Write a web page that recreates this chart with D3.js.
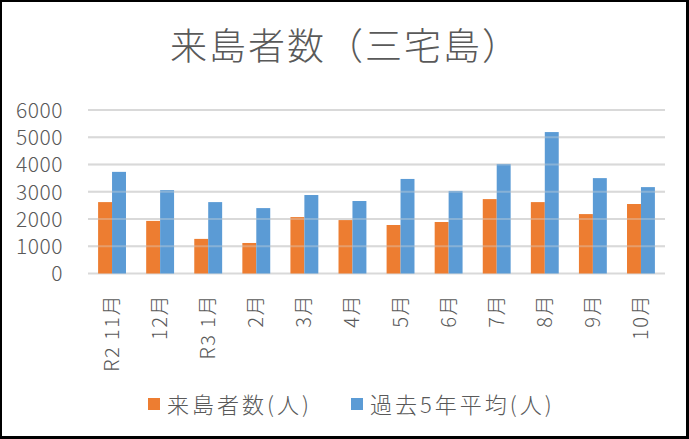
<!DOCTYPE html>
<html>
<head>
<meta charset="utf-8">
<script src="https://cdn.jsdelivr.net/npm/d3@7"></script>
<style>
  body { margin: 0; background: #fff; }
  text { font-family: "Noto Sans CJK JP", "Noto Sans", sans-serif; fill: #595959; font-weight: 300; }
</style>
</head>
<body>
<div id="chart"></div>
<script>
// 月ごとのカテゴリ
const categories = ["R2 11月", "12月", "R3 1月", "2月", "3月", "4月", "5月", "6月", "7月", "8月", "9月", "10月"]
// 来島者数（人）
const visitors = [2620, 1930, 1270, 1120, 2070, 1960, 1780, 1890, 2730, 2620, 2180, 2550]
// 過去5年平均（人）
const avg5 = [3730, 3060, 2620, 2400, 2880, 2660, 3470, 3030, 4020, 5190, 3500, 3170]
const seriesNames = ["来島者数(人)", "過去5年平均(人)"]
const yTicks = [0, 1000, 2000, 3000, 4000, 5000, 6000]
const colors = ["#ED7D31", "#5B9BD5"]

const W = 689, H = 439

let svg = d3.select('#chart')
  .append('svg')
  .attr('width', W)
  .attr('height', H)

// frame
svg.append('rect').attr('width', W).attr('height', H).attr('fill', '#000')
svg.append('rect').attr('x', 2).attr('y', 2).attr('width', W - 5).attr('height', H - 5).attr('fill', '#fff')

let x = d3.scaleBand()
  .domain(categories)
  .range([88, 665])
  .paddingInner(0.42)
  .paddingOuter(0.21)

let xs = d3.scaleBand()
  .domain([0, 1])
  .range([0, x.bandwidth()])

let y = d3.scaleLinear()
  .domain([0, 6000])
  .range([273.5, 110])

// gridlines under the bars
let grid = svg.append('g')
grid.selectAll('line')
  .data(yTicks)
  .enter()
  .append('line')
  .attr('x1', 88)
  .attr('x2', 665)
  .attr('y1', d => y(d))
  .attr('y2', d => y(d))
  .attr('stroke', '#d9d9d9')
  .attr('stroke-width', 2)

let rows = categories.map((c, i) => ({ cat: c, vals: [visitors[i], avg5[i]] }))

let groups = svg.selectAll('g.cat')
  .data(rows)
  .enter()
  .append('g')
  .attr('class', 'cat')
  .attr('transform', d => `translate(${x(d.cat)},0)`)

groups.selectAll('rect')
  .data(d => d.vals)
  .enter()
  .append('rect')
  .attr('x', (d, i) => xs(i))
  .attr('width', xs.bandwidth())
  .attr('y', d => y(d))
  .attr('height', d => y(0) - y(d))
  .attr('fill', (d, i) => colors[i])

// faint gridlines showing through the bars
svg.append('g').selectAll('line')
  .data(yTicks.slice(1))
  .enter()
  .append('line')
  .attr('x1', 88)
  .attr('x2', 665)
  .attr('y1', d => y(d))
  .attr('y2', d => y(d))
  .attr('stroke', '#d9d9d9')
  .attr('stroke-opacity', 0.35)
  .attr('stroke-width', 2)

// y axis labels
let yAxis = d3.axisLeft(y).tickValues(yTicks).tickFormat(d3.format('d')).tickSize(0).tickPadding(0)
svg.append('g')
  .attr('transform', 'translate(63,0)')
  .call(yAxis)
  .call(g => g.select('.domain').remove())
  .selectAll('text')
  .attr('font-size', 21)
  .attr('font-family', '"Noto Sans CJK JP", sans-serif')
  .attr('fill', '#595959')
  .attr('letter-spacing', 0.5)
  .attr('dy', '0.35em')

// x axis labels (rotated)
svg.append('g').selectAll('text')
  .data(categories)
  .enter()
  .append('text')
  .attr('transform', d => `translate(${x(d) + x.bandwidth() / 2},294) rotate(-90)`)
  .attr('text-anchor', 'end')
  .attr('dy', '0.35em')
  .attr('font-size', 20)
  .attr('letter-spacing', 1.5)
  .text(d => d)

// title
svg.append('text')
  .attr('x', 170)
  .attr('y', 60)
  .attr('font-size', 37)
  .attr('letter-spacing', 2)
  .text('来島者数（三宅島）')

// legend
let legendX = [148, 351]
let legend = svg.selectAll('g.legend')
  .data(seriesNames)
  .enter()
  .append('g')
  .attr('class', 'legend')
  .attr('transform', (d, i) => `translate(${legendX[i]},398)`)

legend.append('rect')
  .attr('width', 12)
  .attr('height', 12)
  .attr('fill', (d, i) => colors[i])

legend.append('text')
  .attr('x', 19)
  .attr('y', 15)
  .attr('font-size', 22)
  .attr('letter-spacing', 3)
  .text(d => d)
</script>
</body>
</html>
